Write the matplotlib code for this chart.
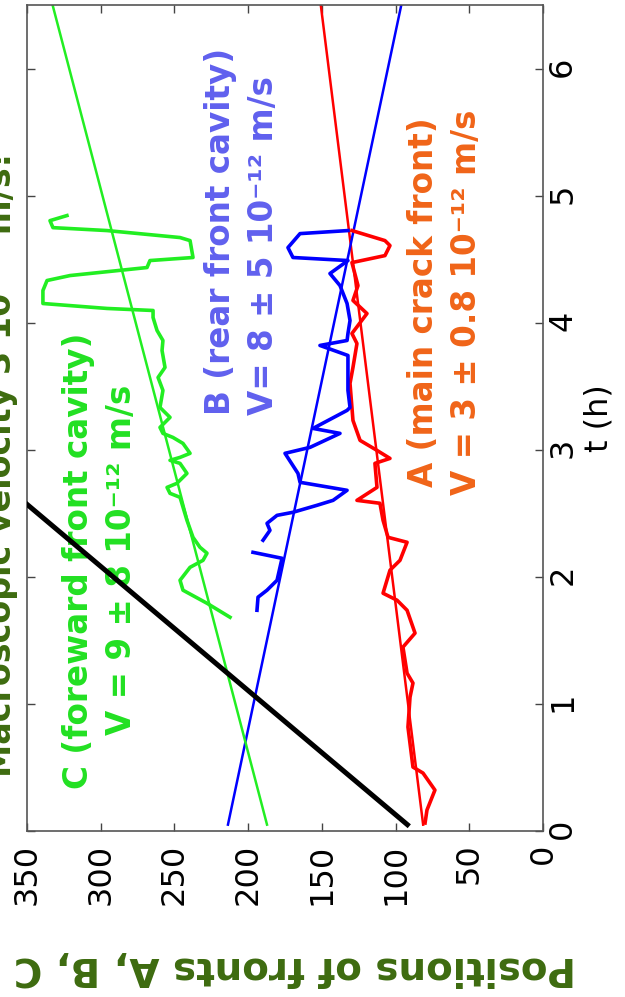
import numpy as np
import matplotlib
matplotlib.use("Agg")
import matplotlib.pyplot as plt

# ---- axis ticks ----
time_ticks = [0, 1, 2, 3, 4, 5, 6]
pos_ticks = [0, 50, 100, 150, 200, 250, 300, 350]

# ---- front A : main crack front (time in h, position) ----
a_t = [0.063, 0.165, 0.322, 0.456, 0.503, 0.818, 1.053, 1.164, 1.242, 1.447,
       1.557, 1.737, 1.816, 1.871, 2.052, 2.130, 2.272, 2.311, 2.445, 2.579,
       2.602, 2.704, 2.893, 2.932, 2.995, 3.074, 3.231, 3.522, 3.648, 3.836,
       3.915, 4.072, 4.175, 4.292, 4.473, 4.528, 4.607, 4.646, 4.725]
a_pos = [80.0, 78.7, 73.3, 81.4, 88.2, 91.6, 90.2, 88.2, 92.2, 95.0,
         86.8, 92.2, 99.0, 108.5, 103.8, 97.0, 92.2, 105.1, 108.5, 110.6,
         126.2, 112.6, 114.0, 103.8, 112.6, 124.1, 128.9, 130.9, 128.9, 126.2,
         129.6, 119.4, 128.9, 125.5, 129.6, 107.2, 103.8, 107.2, 129.6]

# ---- front B : rear front of the cavity ----
b_t = [1.737, 1.840, 1.895, 1.973, 2.146, 2.193, np.nan,
       2.288, 2.366, 2.421, 2.484, 2.508, 2.563, 2.602, 2.681, 2.744, 2.814,
       2.972, 3.019, 3.129, 3.168, 3.310, 3.333, 3.467, 3.569, 3.742, 3.821,
       3.860, 3.915, 4.017, 4.151, 4.292, 4.387, 4.489, 4.513, 4.591, 4.701,
       4.725]
b_pos = [194.0, 193.3, 187.2, 180.4, 177.0, 196.7, np.nan,
         189.9, 185.2, 187.2, 180.4, 169.6, 153.3, 142.4, 132.9, 164.8, 166.2,
         175.0, 158.0, 137.7, 156.0, 132.9, 130.9, 132.3, 132.3, 132.3, 151.3,
         132.9, 132.3, 130.9, 132.9, 137.7, 144.5, 132.3, 169.6, 173.0, 164.8,
         132.3]

# ---- front C : foreward front of the cavity ----
c_t = [1.682, 1.792, 1.895, 1.973, 2.075, 2.130, 2.186, 2.233, 2.311, 2.445,
       2.626, 2.657, 2.704, 2.736, 2.814, 2.893, 2.917, 2.940, 2.972, 3.050,
       3.097, 3.129, 3.176, 3.255, 3.333, 3.467, 3.569, 3.648, 3.781, 3.860,
       3.939, 4.041, 4.096, 4.112, 4.151, 4.253, 4.332, 4.371, 4.434, 4.489,
       4.513, 4.646, 4.670, 4.725, 4.748, 4.803, 4.843]
c_pos = [212.3, 227.9, 244.2, 246.2, 239.4, 230.6, 227.9, 232.7, 237.4, 241.5,
         246.2, 253.0, 255.0, 248.3, 241.5, 246.2, 253.0, 246.2, 239.4, 244.2,
         251.0, 257.8, 259.8, 253.0, 259.8, 257.8, 261.1, 256.4, 258.4, 257.8,
         261.8, 264.5, 264.5, 295.7, 339.2, 339.2, 336.4, 320.8, 268.6, 266.6,
         237.4, 239.4, 246.2, 295.7, 332.4, 334.4, 322.9]

# ---- linear fits (end points) and macroscopic reference line ----
fit_t = [0.05, 6.6]
fit_a = [81.3, 151.8]
fit_b = [213.7, 94.3]
fit_c = [187.2, 334.9]
ref_t = [0.05, 2.6]
ref_pos = [92.0, 353.0]

W, H = 625, 997
fig = plt.figure(figsize=(W / 100, H / 100), dpi=100)
ax = fig.add_axes([27 / W, 166 / H, 516 / W, 826 / H])

RED, BLUE, GREEN = "#ff0000", "#0000ff", "#22ee22"

ax.plot(fit_a, fit_t, color=RED, lw=1.8, zorder=2)
ax.plot(fit_b, fit_t, color=BLUE, lw=1.8, zorder=2)
ax.plot(fit_c, fit_t, color=GREEN, lw=1.8, zorder=2)
ax.plot(a_pos, a_t, color=RED, lw=2.6, zorder=3)
ax.plot(b_pos, b_t, color=BLUE, lw=2.6, zorder=3)
ax.plot(c_pos, c_t, color=GREEN, lw=2.6, zorder=3)
ax.plot(ref_pos, ref_t, color="black", lw=3.6, zorder=4)

ax.set_xlim(350, 0)
ax.set_ylim(0, 6.5)
ax.set_xticks(pos_ticks)
ax.set_yticks(time_ticks)
ax.tick_params(direction="in", top=True, bottom=True, left=True, right=True,
               length=6, width=1, color="#444444", labelsize=23,
               labelcolor="black")
ax.tick_params(axis="x", labelrotation=90, pad=9)
ax.tick_params(axis="y", labelleft=False, labelright=True, labelrotation=90, pad=3)
for s in ax.spines.values():
    s.set_color("#555555")
    s.set_linewidth(1.2)

ax.yaxis.set_label_position("right")
ax.set_ylabel("t (h)", fontsize=23, rotation=90, labelpad=4)

label_font = dict(family="DejaVu Sans", fontweight="bold")
ax.text(300.5, 2.13, "C (foreward front cavity)\nV = 9 ± 8 10⁻¹² m/s",
        rotation=90, ha="center", va="center", multialignment="center",
        color="#22e022", fontsize=23.5, linespacing=1.4, **label_font)
ax.text(204.0, 4.72, "B (rear front cavity)\nV= 8 ± 5 10⁻¹² m/s",
        rotation=90, ha="center", va="center", multialignment="left",
        color="#6060ee", fontsize=23.5, linespacing=1.4, **label_font)
ax.text(66.5, 4.16, "A (main crack front)\nV = 3 ± 0.8 10⁻¹² m/s",
        rotation=90, ha="center", va="center", multialignment="center",
        color="#f06418", fontsize=23.5, linespacing=1.4, **label_font)

fig.text(295 / W, 1 - 968 / H, "Positions of fronts A, B, C", rotation=180,
         ha="center", va="center", color="#3d6b0f", fontsize=28, **label_font)
fig.text(18 / W, 1 - 465 / H, "Macroscopic velocity 3 10⁻¹² m/s!", rotation=90,
         ha="right", va="center", color="#3d6b0f", fontsize=24, **label_font)

fig.savefig("out.png", dpi=100)
